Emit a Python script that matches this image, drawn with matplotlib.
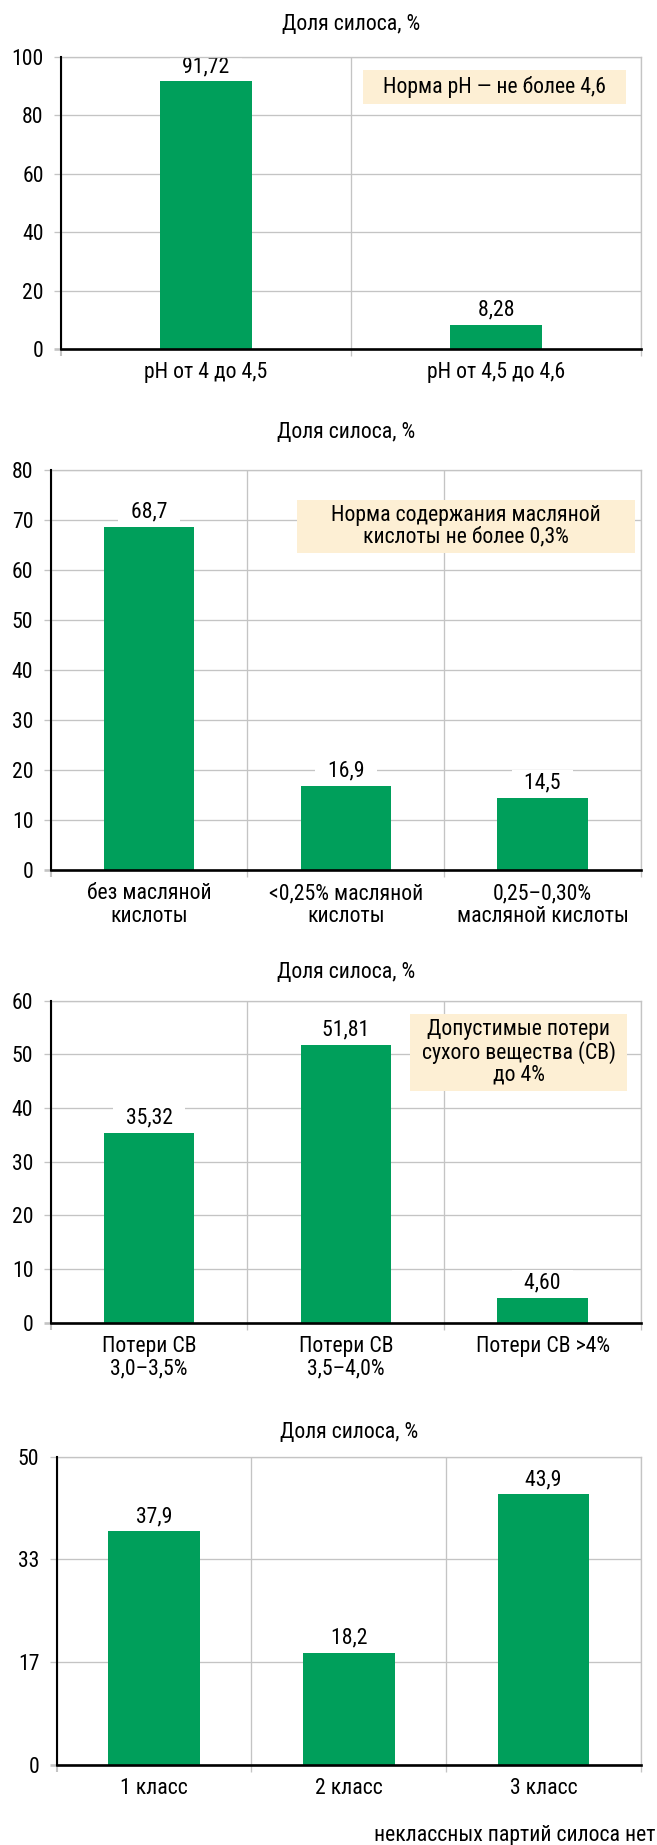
import numpy as np
import matplotlib
matplotlib.use("Agg")
import matplotlib.pyplot as plt
from matplotlib import font_manager as fm
from matplotlib.patches import Rectangle

# condensed sans like the original; take the first one that is installed
have = {f.name for f in fm.fontManager.ttflist}
for fam in ['Liberation Sans Narrow', 'Roboto Condensed', 'PT Sans Narrow',
            'Fira Sans Condensed', 'Liberation Sans']:
    if fam in have:
        break
else:
    fam = 'DejaVu Sans'
plt.rcParams['font.family'] = [fam, 'DejaVu Sans']
FS = 15.7
plt.rcParams['font.size'] = FS

############ data ############
ph_cats = ['pH от 4 до 4,5', 'pH от 4,5 до 4,6']
ph_vals = [91.72, 8.28]

bk_cats = ['без масляной\nкислоты', '<0,25% масляной\nкислоты', '0,25–0,30%\nмасляной кислоты']
bk_vals = [68.7, 16.9, 14.5]

sv_cats = ['Потери СВ\n3,0–3,5%', 'Потери СВ\n3,5–4,0%', 'Потери СВ >4%']
sv_vals = [35.32, 51.81, 4.60]

cl_cats = ['1 класс', '2 класс', '3 класс']
cl_vals = [37.9, 18.2, 43.9]
cl_ticklabels = ['0', '17', '33', '50']

title = 'Доля силоса, %'
footnote = 'неклассных партий силоса нет'

############ style ############
GREEN = '#009f5b'
GRID = '#c4c4c4'
NOTE_BG = '#fdefd4'
W, H = 657, 1845

fig = plt.figure(figsize=(W / 100, H / 100), dpi=100)


def px_axes(x0, x1, y0, y1):
    # pixel box (top-left origin) -> figure axes
    return fig.add_axes([x0 / W, 1 - y1 / H, (x1 - x0) / W, (y1 - y0) / H])


def draw(ax, cats, vals, ymax, yticks, yticklabels, width, dec, note=None, note_box=None):
    n = len(cats)
    x = np.arange(n)
    ax.bar(x, vals, width=width, color=GREEN, zorder=3)
    ax.set_xlim(-0.5, n - 0.5)
    ax.set_ylim(0, ymax)

    ax.set_axisbelow(True)
    ax.set_yticks(yticks)
    ax.set_yticklabels(yticklabels)
    ax.set_xticks(np.arange(n + 1) - 0.5)
    ax.set_xticklabels([''] * (n + 1))
    ax.set_xticks(x, minor=True)
    ax.set_xticklabels(cats, minor=True, linespacing=1.1)
    ax.tick_params(axis='both', which='major', direction='out', length=5,
                   width=0.95, color=GRID, pad=7.5, labelsize=FS)
    ax.tick_params(axis='x', which='minor', length=0, pad=9.5, labelsize=FS)
    ax.grid(True, which='major', color=GRID, linewidth=0.95)

    for s in ['top', 'right']:
        ax.spines[s].set_color(GRID)
        ax.spines[s].set_linewidth(0.95)
    ax.spines['left'].set_linewidth(1.5)
    ax.spines['bottom'].set_linewidth(1.9)
    for s in ['left', 'bottom']:
        ax.spines[s].set_color('black')
        ax.spines[s].set_zorder(4)

    # black ticks continuing the axes past the corner
    t = ax.yaxis.get_major_ticks()[0].tick1line
    t.set_color('black'); t.set_markeredgewidth(1.9)
    t = ax.xaxis.get_major_ticks()[0].tick1line
    t.set_color('black'); t.set_markeredgewidth(1.5)

    for xi, v in zip(x, vals):
        s = f'{v:.{dec}f}'.replace('.', ',')
        ax.annotate('  ' + s + '  ', (xi, v), xytext=(0, 3), textcoords='offset points',
                    ha='center', va='bottom', fontsize=FS, zorder=2,
                    bbox=dict(boxstyle='square,pad=0.12', fc='white', ec='none'))

    if note:
        bx0, by0, bx1, by1 = note_box
        ax.add_patch(Rectangle((bx0, by0), bx1 - bx0, by1 - by0, transform=ax.transAxes,
                               facecolor=NOTE_BG, edgecolor='none', zorder=3.5))
        ax.text((bx0 + bx1) / 2, (by0 + by1) / 2, note, transform=ax.transAxes,
                ha='center', va='center', fontsize=FS, linespacing=1.05, zorder=5)


def add_title(x0, x1, y):
    fig.text((x0 + x1) / 2 / W, 1 - y / H, title, ha='center', va='center', fontsize=FS)


# chart 1
ax1 = px_axes(61, 641, 57, 349)
draw(ax1, ph_cats, ph_vals, 100, [0, 20, 40, 60, 80, 100],
     ['0', '20', '40', '60', '80', '100'], 0.314, 2,
     'Норма pH — не более 4,6', (0.521, 0.839, 0.974, 0.955))
add_title(61, 641, 25)

# chart 2
ax2 = px_axes(50.7, 641, 470, 870)
draw(ax2, bk_cats, bk_vals, 80, np.arange(0, 81, 10),
     [str(v) for v in range(0, 81, 10)], 0.46, 1,
     'Норма содержания масляной\nкислоты не более 0,3%', (0.417, 0.7925, 0.9905, 0.925))
add_title(50.7, 641, 433)

# chart 3
ax3 = px_axes(50.7, 641, 1000.6, 1322.7)
draw(ax3, sv_cats, sv_vals, 60, np.arange(0, 61, 10),
     [str(v) for v in range(0, 61, 10)], 0.46, 2,
     'Допустимые потери\nсухого вещества (СВ)\nдо 4%', (0.609, 0.719, 0.976, 0.958))
add_title(50.7, 641, 972)

# chart 4
ax4 = px_axes(56.7, 641, 1456.7, 1765)
draw(ax4, cl_cats, cl_vals, 50, np.linspace(0, 50, 4), cl_ticklabels, 0.47, 1)
add_title(56.7, 641, 1432)

fig.text(655 / W, 1 - 1835 / H, footnote, ha='right', va='center', fontsize=FS)

fig.savefig('out.png', dpi=100)
